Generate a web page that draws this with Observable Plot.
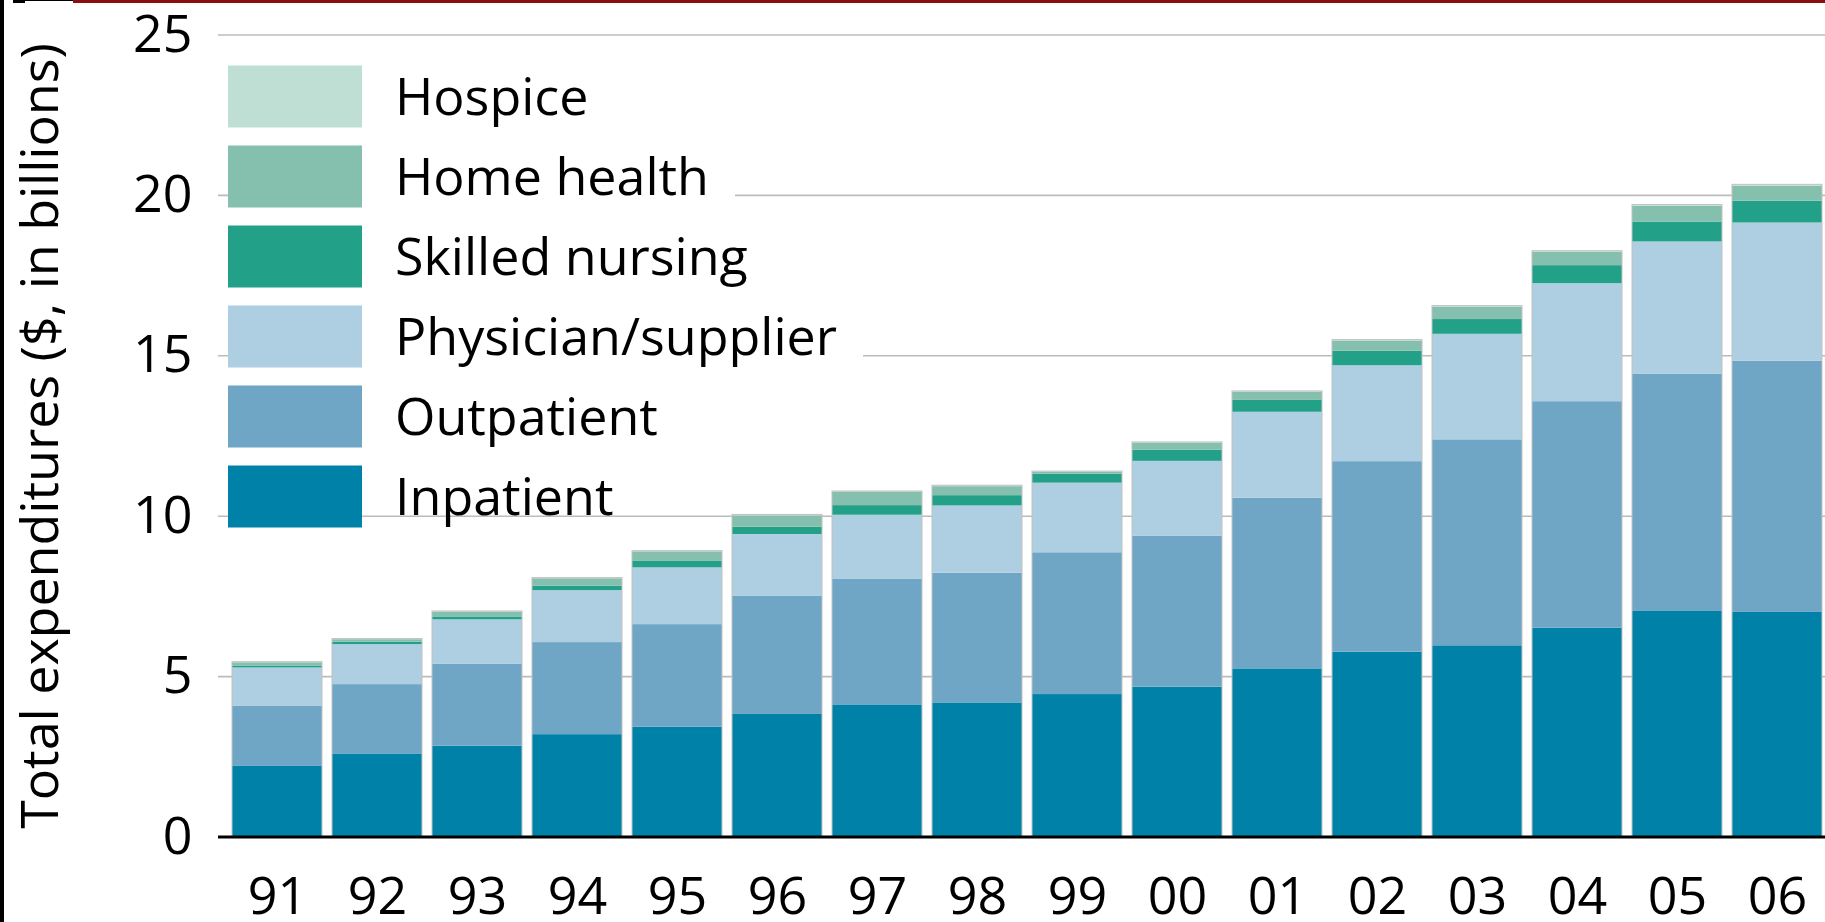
<!DOCTYPE html>
<html>
<head>
<meta charset="utf-8">
<script src="https://cdn.jsdelivr.net/npm/d3@7"></script>
<script src="https://cdn.jsdelivr.net/npm/@observablehq/plot@0.6"></script>
<style>
  html, body { margin: 0; padding: 0; background: #fff; overflow: hidden; }
  #wrap { position: relative; width: 1825px; height: 922px; overflow: hidden; }
  #chart svg { display: block; }
  #legend { position: absolute; left: 0; top: 0; pointer-events: none; }
  .deco { position: absolute; background: #000; }
</style>
</head>
<body>
<div id="wrap">
  <div id="chart"></div>
  <svg id="legend" width="1825" height="922"></svg>
  <div class="deco" style="left:0;top:0;width:4px;height:922px;"></div>
  <div class="deco" style="left:13px;top:0;width:12px;height:3px;"></div>
  <div class="deco" style="left:25px;top:0;width:48px;height:1px;"></div>
  <div class="deco" style="left:73px;top:0;width:1752px;height:3px;background:#8a1010;"></div>
</div>
<script>
// ---- data ----
const years = ["91","92","93","94","95","96","97","98","99","00","01","02","03","04","05","06"];
const series = ["Inpatient","Outpatient","Physician/supplier","Skilled nursing","Home health","Hospice"];
const colors = ["#0081a7","#6fa6c6","#aecee1","#22a088","#85bfae","#bfdfd4"];

const inpatient  = [2.20,2.59,2.83,3.19,3.42,3.82,4.10,4.18,4.44,4.67,5.24,5.76,5.96,6.51,7.03,7.00];
const outpatient = [1.87,2.16,2.55,2.87,3.20,3.68,3.93,4.04,4.42,4.71,5.32,5.94,6.42,7.06,7.39,7.83];
const physician  = [1.20,1.25,1.39,1.62,1.77,1.93,2.00,2.10,2.17,2.33,2.68,2.99,3.29,3.68,4.13,4.31];
const skilled    = [0.05,0.07,0.09,0.14,0.20,0.23,0.30,0.32,0.28,0.35,0.37,0.45,0.46,0.56,0.62,0.68];
const homeHealth = [0.11,0.08,0.15,0.23,0.30,0.35,0.41,0.28,0.06,0.21,0.25,0.32,0.39,0.42,0.49,0.47];
const hospice    = [0.02,0.02,0.02,0.02,0.02,0.03,0.03,0.03,0.02,0.03,0.03,0.03,0.03,0.03,0.04,0.04];

const yTicks = [0,5,10,15,20,25];
const yLabel = "Total expenditures ($, in billions)";
const legendOrder = ["Hospice","Home health","Skilled nursing","Physician/supplier","Outpatient","Inpatient"];
const legendBacked = ["Home health","Physician/supplier"];

// ---- build table ----
const seriesValues = [inpatient, outpatient, physician, skilled, homeHealth, hospice];
const rows = years.flatMap((yr, i) => series.map((s, k) => ({year: yr, series: s, value: seriesValues[k][i]})));
const totals = years.map((yr, i) => ({year: yr, total: d3.sum(seriesValues, v => v[i])}));

const FONT = "'Open Sans', 'Noto Sans', sans-serif";
const marginLeft = 218, marginTop = 34.5, marginBottom = 85.5;

const chart = Plot.plot({
  width: 1825,
  height: 922,
  marginLeft,
  marginRight: -10,
  marginTop,
  marginBottom,
  style: {fontFamily: FONT, fontSize: "52px", color: "#000", background: "transparent", overflow: "visible"},
  x: {domain: years, padding: 0.1, label: null, tickSize: 0, tickPadding: 40},
  y: {domain: [0, 25], ticks: yTicks, label: null, tickSize: 0, tickPadding: 26},
  color: {domain: series, range: colors},
  marks: [
    Plot.ruleY(yTicks, {stroke: "#bcbcbc", strokeWidth: 1.6}),
    Plot.barY(rows, {x: "year", y: "value", fill: "series"}),
    Plot.barY(totals, {x: "year", y: "total", fill: "none", stroke: "#c2c2c2", strokeWidth: 1}),
    Plot.ruleY([0], {stroke: "#000", strokeWidth: 3}),
    Plot.text([yLabel], {text: d => d, frameAnchor: "left", textAnchor: "middle", lineAnchor: "middle", rotate: -90, dx: -177, fontSize: 52})
  ]
});
document.getElementById("chart").appendChild(chart);

// ---- legend overlay ----
const lg = d3.select("#legend");
const swX = 228, swW = 134, swH = 62, top0 = 65.5, step = 80, textX = 395;
legendOrder.forEach((name, i) => {
  const top = top0 + i * step;
  const color = colors[series.indexOf(name)];
  const g = lg.append("g");
  const bg = g.append("rect").attr("fill", "#fff");
  g.append("rect")
    .attr("x", swX).attr("y", top).attr("width", swW).attr("height", swH)
    .attr("fill", color);
  const t = g.append("text")
    .attr("x", textX).attr("y", top + swH / 2 + 0.357 * 52)
    .attr("font-family", FONT).attr("font-size", 52).attr("fill", "#000")
    .text(name);
  if (legendBacked.includes(name)) {
    const w = t.node().getComputedTextLength();
    bg.attr("x", swX + swW).attr("y", top).attr("width", textX - swX - swW + w + 26).attr("height", swH);
  } else {
    bg.remove();
  }
});
</script>
</body>
</html>
